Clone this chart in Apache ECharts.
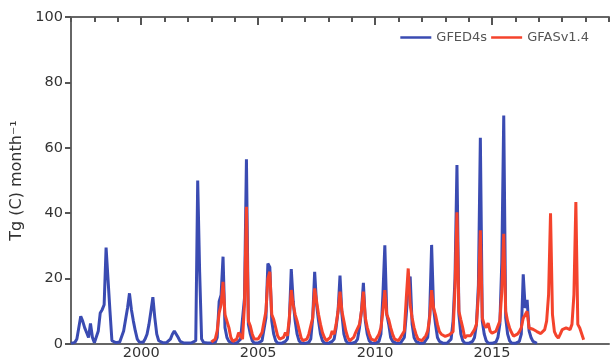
<!DOCTYPE html>
<html>
<head>
<meta charset="utf-8">
<script src="https://cdn.jsdelivr.net/npm/echarts@6/dist/echarts.min.js"></script>
<style>
html,body{margin:0;padding:0;background:#fff;}
#c{width:612px;height:361px;}
</style>
</head>
<body>
<div id="c"></div>
<script>
// GFED4s monthly, Jan 1997 - Dec 2016
const gfedStart = 1997;
const gfed = [
  0.2,0.3,0.5,1.5,5,8.5,7,5,3.5,2,6.3,2,          // 1997
  0.4,1,4,9.5,10.5,12,29.5,30,10,1,0.5,0.4,       // 1998
  0.5,0.6,1,4,7.5,11,15.5,10.5,7,4,1.5,0.6,       // 1999
  0.4,0.5,1.5,3,6,10,14.3,8,3,1,0.5,0.4,          // 2000
  0.4,0.4,0.6,1.5,3,4,3.5,2,0.8,0.4,0.3,0.3,      // 2001
  0.3,0.3,0.4,0.5,1,50,22,1.5,0.5,0.3,0.3,0.3,    // 2002
  0.3,0.3,0.5,2,13,15,26.7,5,2,0.8,0.3,0.3,       // 2003
  0.3,0.3,0.8,1.5,1,14,56.5,6,3,1,0.3,0.3,        // 2004
  0.3,0.3,1,1.5,8,24.6,23.5,7,3,1,0.3,0.3,        // 2005
  0.2,0.3,0.8,1.5,7,22.9,13,7,3,1,0.3,0.2,        // 2006
  0.2,0.3,0.5,1.5,8,22.1,12,7,3,1,0.3,0.2,        // 2007
  0.2,0.3,0.8,1.5,5,10,20.9,9,3,1,0.3,0.2,        // 2008
  0.2,0.3,0.6,1.5,5,10,18.7,7,3,1,0.3,0.2,        // 2009
  0.2,0.3,0.8,3,15,30.2,9,6,2,0.8,0.3,0.2,        // 2010
  0.2,0.3,0.8,2,9,18,20.6,6,2,0.8,0.3,0.2,        // 2011
  0.2,0.3,0.6,2,9,30.3,11,6,2,0.8,0.3,0.2,        // 2012
  0.2,0.3,0.6,1.5,7,20,54.7,9,3,1,0.3,0.2,        // 2013
  0.2,0.3,0.8,2,6,18,63.1,7,3,1,0.3,0.2,          // 2014
  0.2,0.3,0.6,2,6,25,69.9,8,3,1,0.3,0.2,          // 2015
  0.2,0.3,0.8,3,21.3,11,13.5,4,2,0.8,0.3,0.2      // 2016
];
// GFASv1.4 monthly, Jan 2003 - Dec 2018
const gfasStart = 2003;
const gfas = [
  0.6,1,1.5,4,9.5,12,19,9,9.5,5,2,0.8,            // 2003
  0.8,1.5,3.5,4,1.5,12,42,7,5.5,3,1.5,1,          // 2004
  1.5,1.5,3.5,3,10,20,22.1,9,7.5,5,2.5,1.5,       // 2005
  1,2,3.5,2.5,8,16.5,12,9,7,4.5,2,1,              // 2006
  1,1.5,3,3,8,17,13,9,6,3.5,2,1,                  // 2007
  1,2,4,3,6,10,16,10,7,4,2,1,                     // 2008
  1.5,2,3.5,4,6,10,16,8,5,3,1.5,1,                // 2009
  1,1.5,3,5,10,16.5,9,7.5,5,3,1.5,1,              // 2010
  1,1.5,3,4,14,23.1,12,8,5,3,1.5,1,               // 2011
  1,1.5,2.5,4,8,16.5,11,8.9,6,3.8,3,2.5,          // 2012
  2.3,2.5,2.8,3,3.8,17,40.3,10,7.4,4.9,1.8,2.5,   // 2013
  2,2.5,3,4.4,6,15,34.8,8,5.9,5,6.4,4,            // 2014
  3.3,3,3.9,4.5,7,16,33.7,10,6.9,4.9,3.5,2.4,     // 2015
  2.4,3,3.8,5,7.9,8,10,4.9,4.7,4.5,4,3.8,         // 2016
  3.5,3.2,3.8,4.4,7,15,40,9,3.8,2.5,1.8,3,        // 2017
  4.4,4.6,4.9,4.7,4.4,6,15,43.4,6,4.9,5.4,1.3     // 2018
];
const seriesNames = ['GFED4s', 'GFASv1.4'];
const xMin = 1997, xMax = 2020;
const xLabelYears = [2000, 2005, 2010, 2015];

const toPairs = (start, vals) => vals.map((v, i) => [start + i / 12, v]);

const axisGrey = '#666';
const tickCol = '#555';
const textCol = '#333';
const font = 'DejaVu Sans, sans-serif';

const chart = echarts.init(document.getElementById('c'));
chart.setOption({
  grid: {left: 71, right: 0, top: 17, bottom: 15},
  legend: {
    data: seriesNames,
    top: 26, right: 18,
    icon: 'rect', itemWidth: 31, itemHeight: 2.5, itemGap: 4,
    textStyle: {fontSize: 13, color: '#555', fontFamily: font}
  },
  xAxis: [
    {
      type: 'value', min: xMin, max: xMax, interval: 1, position: 'bottom',
      axisLine: {show: true, onZero: false, lineStyle: {color: axisGrey, width: 2}},
      axisTick: {show: false},
      splitLine: {show: false},
      axisLabel: {
        margin: 2, fontSize: 14.5, color: textCol, fontFamily: font,
        formatter: v => (xLabelYears.indexOf(Math.round(v)) >= 0 ? String(Math.round(v)) : '')
      }
    },
    {
      type: 'value', min: xMin, max: xMax, interval: 1, position: 'top',
      axisLine: {show: true, onZero: false, lineStyle: {color: axisGrey, width: 2}},
      axisTick: {show: true, inside: true, length: 5, lineStyle: {color: tickCol, width: 2}},
      splitLine: {show: false},
      axisLabel: {show: false}
    },
    {
      type: 'value', min: xMin, max: xMax, position: 'top',
      axisLine: {show: false, onZero: false},
      axisTick: {show: true, inside: true, length: 8, customValues: xLabelYears, lineStyle: {color: tickCol, width: 2}},
      splitLine: {show: false},
      axisLabel: {show: false}
    }
  ],
  yAxis: {
    type: 'value', min: 0, max: 100, interval: 20,
    name: 'Tg (C) month\u207B\u00B9',
    nameLocation: 'middle', nameGap: 42, nameRotate: 90,
    nameTextStyle: {fontSize: 16, color: textCol, fontFamily: font},
    axisLine: {show: true, lineStyle: {color: axisGrey, width: 2}},
    axisTick: {show: true, length: 6, lineStyle: {color: tickCol, width: 2}},
    splitLine: {show: false},
    axisLabel: {margin: 8, fontSize: 14.5, color: textCol, fontFamily: font}
  },
  series: [
    {
      name: seriesNames[0], type: 'line', xAxisIndex: 0,
      data: toPairs(gfedStart, gfed),
      showSymbol: false, symbol: 'none',
      lineStyle: {color: '#3a4bb2', width: 3},
      itemStyle: {color: '#3a4bb2'},
      z: 2
    },
    {
      name: seriesNames[1], type: 'line', xAxisIndex: 0,
      data: toPairs(gfasStart, gfas),
      showSymbol: false, symbol: 'none',
      lineStyle: {color: '#f4432c', width: 3},
      itemStyle: {color: '#f4432c'},
      z: 3
    }
  ]
});
</script>
</body>
</html>
